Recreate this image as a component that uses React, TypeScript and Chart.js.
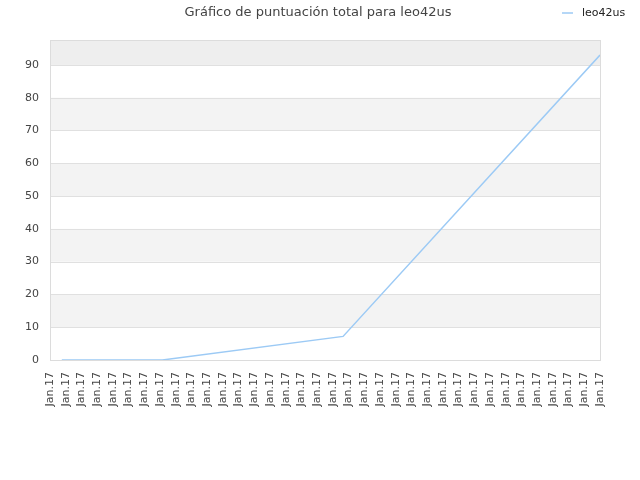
import React, { useEffect, useRef } from "react";
import { Chart, registerables } from "chart.js";

Chart.register(...registerables);

const TITLE = "Gráfico de puntuación total para leo42us";
const SERIES_NAME = "leo42us";
const TICK_LABEL = "Jan.17";
const X_TICK_COUNT = 36;
const POINT_X = [0.75, 7.15, 18.65, 35];
const POINT_Y = [0, 0, 7.2, 93];
const Y_MAX = 97.6;
const LINE_COLOR = "#9ccaf5";

const decorPlugin = {
  id: "decor",
  beforeDatasetsDraw(chart: any) {
    const { ctx, chartArea } = chart;
    const y = chart.scales.y;
    const vals: number[] = [];
    for (let v = 0; v <= Y_MAX; v += 10) vals.push(v);
    vals.push(Y_MAX);
    ctx.save();
    for (let i = 0; i < vals.length - 1; i++) {
      const yTop = y.getPixelForValue(vals[i + 1]);
      const yBot = y.getPixelForValue(vals[i]);
      if (i % 2 === 1) {
        ctx.fillStyle = i === vals.length - 2 ? "#eeeeee" : "#f3f3f3";
        ctx.fillRect(chartArea.left, yTop, chartArea.right - chartArea.left, yBot - yTop);
      }
    }
    ctx.strokeStyle = "#e0e0e0";
    ctx.lineWidth = 1;
    for (let i = 0; i < vals.length - 1; i++) {
      const py = Math.round(y.getPixelForValue(vals[i])) + 0.5;
      ctx.beginPath();
      ctx.moveTo(chartArea.left, py);
      ctx.lineTo(chartArea.right, py);
      ctx.stroke();
    }
    ctx.strokeStyle = "#dcdcdc";
    ctx.strokeRect(
      Math.round(chartArea.left) + 0.5,
      Math.round(chartArea.top) + 0.5,
      Math.round(chartArea.right - chartArea.left),
      Math.round(chartArea.bottom - chartArea.top)
    );
    ctx.restore();
  },
  afterDraw(chart: any) {
    const { ctx } = chart;
    ctx.save();
    ctx.font = "13px 'DejaVu Sans'";
    ctx.fillStyle = "#444444";
    ctx.textAlign = "center";
    ctx.textBaseline = "middle";
    ctx.fillText(TITLE, 318, 13);
    ctx.strokeStyle = LINE_COLOR;
    ctx.lineWidth = 1.5;
    ctx.beginPath();
    ctx.moveTo(562, 13);
    ctx.lineTo(573, 13);
    ctx.stroke();
    ctx.font = "11px 'DejaVu Sans'";
    ctx.fillStyle = "#222222";
    ctx.textAlign = "left";
    ctx.fillText(SERIES_NAME, 582, 13);
    ctx.restore();
  },
};

export default function App() {
  const ref = useRef<HTMLCanvasElement | null>(null);
  useEffect(() => {
    document.body.style.margin = "0";
    if (!ref.current) return;
    const xTicks = Array.from({ length: X_TICK_COUNT }, (_, i) => i);
    const chart = new Chart(ref.current, {
      type: "line",
      data: {
        datasets: [
          {
            label: SERIES_NAME,
            data: POINT_X.map((x, i) => ({ x, y: POINT_Y[i] })),
            borderColor: LINE_COLOR,
            borderWidth: 1.5,
            pointRadius: 0,
            fill: false,
            tension: 0,
          },
        ],
      },
      options: {
        animation: false,
        responsive: false,
        maintainAspectRatio: false,
        layout: { padding: { top: 40, right: 40, left: 0, bottom: 0 } },
        plugins: { legend: { display: false }, title: { display: false }, tooltip: { enabled: false } },
        scales: {
          x: {
            type: "linear",
            min: 0,
            max: X_TICK_COUNT - 1,
            afterBuildTicks: (s: any) => {
              s.ticks = xTicks.map((v) => ({ value: v }));
            },
            afterFit: (s: any) => {
              s.height = 120;
            },
            grid: { display: false, drawTicks: false },
            border: { display: false },
            ticks: {
              autoSkip: false,
              maxRotation: 90,
              minRotation: 90,
              padding: 12,
              color: "#444444",
              font: { family: "'DejaVu Sans'", size: 11 },
              callback: () => TICK_LABEL,
            },
          },
          y: {
            type: "linear",
            min: 0,
            max: Y_MAX,
            afterBuildTicks: (s: any) => {
              const t: any[] = [];
              for (let v = 0; v <= Y_MAX; v += 10) t.push({ value: v });
              s.ticks = t;
            },
            afterFit: (s: any) => {
              s.width = 50;
            },
            grid: { display: false, drawTicks: false },
            border: { display: false },
            ticks: {
              padding: 11,
              color: "#444444",
              font: { family: "'DejaVu Sans'", size: 11 },
            },
          },
        },
      },
      plugins: [decorPlugin],
    });
    return () => chart.destroy();
  }, []);
  return (
    <div style={{ width: 640, height: 480, background: "#ffffff" }}>
      <canvas ref={ref} width={640} height={480} style={{ width: 640, height: 480 }} />
    </div>
  );
}
